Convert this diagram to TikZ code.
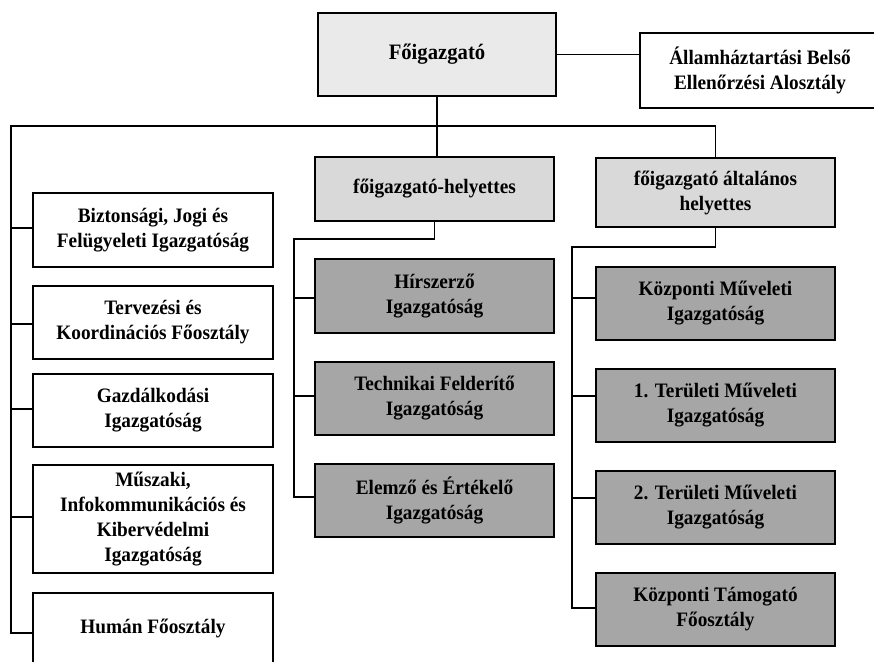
\documentclass[tikz,border=0pt]{standalone}
\usepackage{fontspec}
\setmainfont{Liberation Serif}[FakeStretch=0.94]
\definecolor{lightfill}{HTML}{EAEAEA}
\definecolor{midfill}{HTML}{D9D9D9}
\definecolor{darkfill}{HTML}{A6A6A6}
\begin{document}
\begin{tikzpicture}[x=1pt,y=-1pt,
  box/.style={draw, line width=2pt, align=center, inner sep=0pt,
    minimum width=240pt, font=\fontsize{20.5}{25}\selectfont\bfseries},
  topbox/.style={box, fill=lightfill, font=\fontsize{22}{25}\selectfont\bfseries},
  depbox/.style={box, fill=midfill},
  darkbox/.style={box, fill=darkfill},
  whitebox/.style={box, fill=white},
  conn/.style={line width=1.4pt},
  mainconn/.style={line width=2pt}]
\useasboundingbox (0,0) rectangle (874,661);
\clip (0,0) rectangle (874,661);

% top level
\node[topbox, minimum width=238pt, minimum height=83pt] (foig) at (437,54.5) {Főigazgató};
\node[whitebox, minimum height=75pt] (allam) at (760,70.5) {Államháztartási Belső\\Ellenőrzési Alosztály};

% deputies
\node[depbox, minimum width=239pt, minimum height=64pt] (hely) at (434.5,189) {főigazgató-helyettes};
\node[depbox, minimum width=239pt, minimum height=69pt] (alt) at (715.5,192.5) {főigazgató általános\\helyettes};

% left column
\node[whitebox, minimum height=74pt] (bizt) at (153,230) {Biztonsági, Jogi és\\Felügyeleti Igazgatóság};
\node[whitebox, minimum height=73pt] (terv) at (153,322.5) {Tervezési és\\Koordinációs Főosztály};
\node[whitebox, minimum height=73pt] (gazd) at (153,410.5) {Gazdálkodási\\Igazgatóság};
\node[whitebox, minimum height=108pt] (musz) at (153,519) {Műszaki,\\Infokommunikációs és\\Kibervédelmi\\Igazgatóság};
\node[whitebox, minimum height=70pt] (human) at (153,628) {Humán Főosztály};

% middle column
\node[darkbox, minimum width=239pt, minimum height=74pt] (hir) at (434.5,296) {Hírszerző\\Igazgatóság};
\node[darkbox, minimum width=239pt, minimum height=73pt] (tech) at (434.5,398.5) {Technikai Felderítő\\Igazgatóság};
\node[darkbox, minimum width=239pt, minimum height=73pt] (elem) at (434.5,500.5) {Elemző és Értékelő\\Igazgatóság};

% right column
\node[darkbox, minimum width=239pt, minimum height=73pt] (kmuv) at (715.5,303.5) {Központi Műveleti\\Igazgatóság};
\node[darkbox, minimum width=239pt, minimum height=73pt] (ter1) at (715.5,405.5) {1. Területi Műveleti\\Igazgatóság};
\node[darkbox, minimum width=239pt, minimum height=73pt] (ter2) at (715.5,507.5) {2. Területi Műveleti\\Igazgatóság};
\node[darkbox, minimum width=239pt, minimum height=73pt] (ktam) at (715.5,609.5) {Központi Támogató\\Főosztály};

% spine coordinates
\coordinate (topL) at (11,126);
\coordinate (topM) at (543,126);
\coordinate (spM) at (294,239);
\coordinate (spR) at (572,247);

% connectors
\draw[conn] (foig.east) -- (foig.east -| allam.west);
\draw[conn] (foig.south) -- (foig.south |- hely.north);
\draw[mainconn] ([yshift=-5pt]human.west) -- ([yshift=-5pt]human.west -| topL) -- (topL) -- (topM);
\draw[conn] (topM) -- (topM -| alt.north) -- (alt.north);
\foreach \n/\dy in {bizt/2,terv/-1.5,gazd/1.5,musz/2}
  \draw[conn] ([yshift=\dy pt]\n.west) -- ([yshift=\dy pt]\n.west -| topL);

\draw[conn] (hely.south) -- (hely.south |- spM) -- (spM) -- ([yshift=3.5pt]spM |- elem.west) -- ([yshift=3.5pt]elem.west);
\foreach \n/\dy in {hir/-2,tech/2.5}
  \draw[conn] ([yshift=\dy pt]\n.west) -- ([yshift=\dy pt]\n.west -| spM);

\draw[conn] (alt.south) -- (alt.south |- spR) -- (spR) -- ([yshift=1.5pt]spR |- ktam.west) -- ([yshift=1.5pt]ktam.west);
\foreach \n/\dy in {kmuv/5.5,ter1/9.5,ter2/9.5}
  \draw[conn] ([yshift=\dy pt]\n.west) -- ([yshift=\dy pt]\n.west -| spR);
\end{tikzpicture}
\end{document}
